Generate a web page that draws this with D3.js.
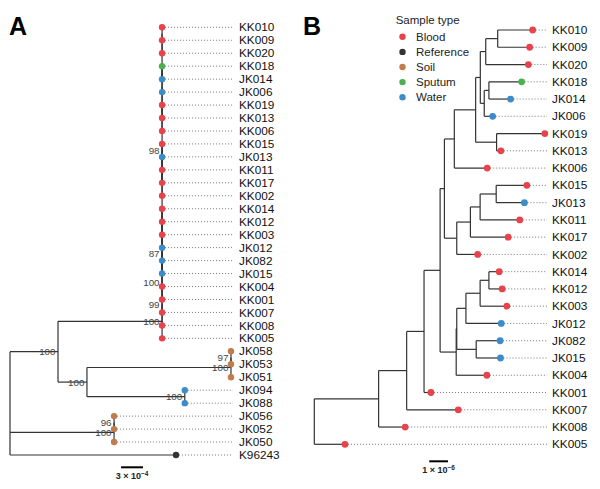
<!DOCTYPE html>
<html><head><meta charset="utf-8">
<script src="https://cdn.jsdelivr.net/npm/d3@7/dist/d3.min.js"></script>
<style>body{margin:0;background:#fff}svg{display:block}text{font-family:"Liberation Sans",Arial,sans-serif}</style>
</head><body>
<svg id="c" width="600" height="489"></svg>
<script>
// ---- DATA ----
// Panel A tree (branch lengths in units of 1e-4, internal labels = bootstrap)
const newickA = "(((((((((((((KK010,KK009),KK020),((KK018,JK014),JK006)),(KK019,KK013)),KK006),((((KK015,JK013)98,KK011),KK017),KK002)),(((((KK014,KK012),KK003),JK012),(JK082,JK015)),KK004)),KK001)87,KK007)100,KK008)99,KK005)100:14.2,(((JK058,JK053)97,JK051)100:19.65,(JK094,JK088)100:13.35)100:3.95)100:6.55,((JK056,JK052)96,JK050)100:14.2,K96243:22.65);";
// Panel B tree (branch lengths in units of 1e-6)
const newickB = "(((((((((((KK010:1.87,KK009:1.71):0.64,KK020:2.28):0.29,((KK018:1.75,JK014:1.16):0.25,JK006:0.45):0.21):0.25,(KK019:2.58,KK013:0.23):1.12):1.14,KK006:1.76):0.53,((((KK015:1.64,JK013:1.51):0.86,KK011:2.12):0.52,KK017:2.02):0.73,KK002:1.12):0.66):0.23,(((((KK014:0.55,KK012:0.71):0.47,KK003:1.43):0.76,JK012:1.89):0.49,(JK082:1.28,JK015:1.30):1.04):0.03,KK004:1.64):0.86):0.86,KK001:0.37):0.93,KK007:2.76):1.50,KK008:1.42):3.44,KK005:1.64);";

const sampleTypes = ["Blood", "Reference", "Soil", "Sputum", "Water"];
const typeColors = ["#e8434b", "#333333", "#c27b4b", "#4caf50", "#3b8cc9"];
const bloodTips = ["KK001","KK002","KK003","KK004","KK005","KK006","KK007","KK008","KK009","KK010","KK011","KK012","KK013","KK014","KK015","KK017","KK019","KK020"];
const referenceTips = ["K96243"];
const soilTips = ["JK058","JK053","JK051","JK056","JK052","JK050"];
const sputumTips = ["KK018"];
const waterTips = ["JK014","JK006","JK013","JK012","JK082","JK015","JK094","JK088"];

const scaleA = {value: 3, label: "3 × 10", exp: "−4"};
const scaleB = {value: 1, label: "1 × 10", exp: "−6"};

// ---- helpers ----
const tipType = {};
[[bloodTips,"Blood"],[referenceTips,"Reference"],[soilTips,"Soil"],[sputumTips,"Sputum"],[waterTips,"Water"]]
  .forEach(([arr,t]) => arr.forEach(n => tipType[n] = t));
const color = d3.scaleOrdinal().domain(sampleTypes).range(typeColors);

function parseNewick(s) {
  let i = 0;
  function node() {
    const n = {name: "", length: 0, children: null};
    if (s[i] === "(") {
      i++; n.children = [];
      while (true) {
        n.children.push(node());
        if (s[i] === ",") { i++; } else { i++; break; }
      }
    }
    let name = "";
    while (i < s.length && !",():;".includes(s[i])) name += s[i++];
    n.name = name;
    if (s[i] === ":") {
      i++; let l = "";
      while (i < s.length && !",();".includes(s[i])) l += s[i++];
      n.length = +l;
    }
    return n;
  }
  return node();
}

function layout(nw) {
  const root = d3.hierarchy(parseNewick(nw), d => d.children);
  root.eachBefore(d => { d.bx = d.parent ? d.parent.bx + d.data.length : 0; });
  const leaves = root.leaves();
  leaves.forEach((d, i) => d.by = i);
  root.eachAfter(d => { if (d.children) d.by = d3.mean(d.children, c => c.by); });
  return root;
}

const svg = d3.select("#c");

function drawTree(root, g, x, y, opt) {
  const nodes = root.descendants();
  // horizontal branches
  g.selectAll("line.h").data(nodes.filter(d => d.parent)).join("line")
    .attr("x1", d => x(d.parent.bx)).attr("x2", d => x(d.bx))
    .attr("y1", d => y(d.by)).attr("y2", d => y(d.by))
    .attr("stroke", "#333").attr("stroke-width", 1.2);
  // vertical connectors
  g.selectAll("line.v").data(nodes.filter(d => d.children)).join("line")
    .attr("x1", d => x(d.bx)).attr("x2", d => x(d.bx))
    .attr("y1", d => y(d.children[0].by)).attr("y2", d => y(d.children[d.children.length-1].by))
    .attr("stroke", "#333").attr("stroke-width", 1.2);
  const leaves = root.leaves();
  // dotted leader lines
  g.selectAll("line.d").data(leaves).join("line")
    .attr("x1", d => x(d.bx) + 3).attr("x2", opt.dotEnd)
    .attr("y1", d => y(d.by)).attr("y2", d => y(d.by))
    .attr("stroke", "#777").attr("stroke-width", 1).attr("stroke-dasharray", "1,2");
  // tip points
  g.selectAll("circle").data(leaves).join("circle")
    .attr("cx", d => x(d.bx)).attr("cy", d => y(d.by)).attr("r", opt.r)
    .attr("fill", d => color(tipType[d.data.name]));
  // tip labels
  g.selectAll("text.t").data(leaves).join("text")
    .attr("x", opt.labelX).attr("y", d => y(d.by)).attr("dy", "0.35em")
    .attr("font-size", 11.8).attr("fill", "#111").text(d => d.data.name);
  // bootstrap labels
  if (opt.boot) {
    g.selectAll("text.b").data(nodes.filter(d => d.children && d.data.name)).join("text")
      .attr("x", d => x(d.bx) - 2.5).attr("y", d => y(d.by)).attr("dy", "0.35em")
      .attr("text-anchor", "end").attr("font-size", 9.8).attr("fill", "#444")
      .text(d => d.data.name);
  }
}

function scaleBar(g, x, x0, sb, yLine, yText) {
  g.append("line").attr("x1", x(x0)).attr("x2", x(x0 + sb.value))
    .attr("y1", yLine).attr("y2", yLine).attr("stroke", "#000").attr("stroke-width", 2);
  const t = g.append("text").attr("x", (x(x0) + x(x0 + sb.value)) / 2).attr("y", yText)
    .attr("text-anchor", "middle").attr("font-size", 9).attr("font-weight", "bold").attr("fill", "#222");
  t.append("tspan").text(sb.label);
  t.append("tspan").attr("dy", -3.5).attr("font-size", 6.5).text(sb.exp);
}

// ---- Panel A ----
const rootA = layout(newickA);
const xA = d3.scaleLinear().domain([0, 22.65]).range([10, 176]);
const yA = d3.scaleLinear().domain([0, 33]).range([27.3, 455]);
const gA = svg.append("g");
drawTree(rootA, gA, xA, yA, {dotEnd: 233, labelX: 239, r: 3.2, boot: true});
scaleBar(gA, xA, 15.15, scaleA, 467.3, 479);

// ---- Panel B ----
const rootB = layout(newickB);
const xB = d3.scaleLinear().domain([0, 12.34]).range([314.3, 545]);
const yB = d3.scaleLinear().domain([0, 24]).range([30, 444.3]);
const gB = svg.append("g");
drawTree(rootB, gB, xB, yB, {dotEnd: 547, labelX: 552, r: 3.4, boot: false});
scaleBar(gB, xB, 6.15, scaleB, 461.3, 473);

// ---- Legend ----
const lg = svg.append("g");
lg.append("text").attr("x", 395.7).attr("y", 20).attr("dy", "0.35em")
  .attr("font-size", 11.5).attr("fill", "#222").text("Sample type");
const ly = d3.scalePoint().domain(sampleTypes).range([36.8, 97.2]);
lg.selectAll("circle").data(sampleTypes).join("circle")
  .attr("cx", 402.5).attr("cy", d => ly(d)).attr("r", 3.2).attr("fill", d => color(d));
lg.selectAll("text.l").data(sampleTypes).join("text")
  .attr("x", 416).attr("y", d => ly(d)).attr("dy", "0.35em")
  .attr("font-size", 11.5).attr("fill", "#222").text(d => d);

// ---- Panel letters ----
svg.append("text").attr("x", 9).attr("y", 35).attr("font-size", 25).attr("font-weight", "bold").text("A");
svg.append("text").attr("x", 303).attr("y", 35).attr("font-size", 25).attr("font-weight", "bold").text("B");
</script>
</body></html>
